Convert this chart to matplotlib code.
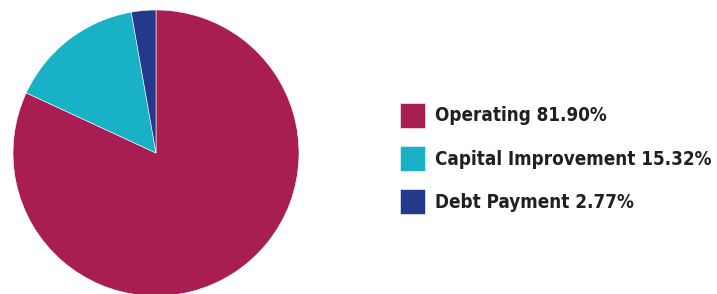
import matplotlib
matplotlib.use("Agg")
import matplotlib.pyplot as plt

categories = ["Operating", "Capital Improvement", "Debt Payment"]
shares = [81.90, 15.32, 2.77]
colors = ["#A81E52", "#18B1C5", "#233A8C"]

W, H = 717, 294
fig = plt.figure(figsize=(W / 100, H / 100), dpi=100)

# pie centred at about (156, 153) px, radius 143 px
cx, cy, r = 156, 153, 143
ax = fig.add_axes([(cx - r) / W, (H - cy - r) / H, 2 * r / W, 2 * r / H])
wedges, _ = ax.pie(shares, colors=colors, startangle=90, counterclock=False,
                   wedgeprops=dict(linewidth=0.4, edgecolor="white"))
ax.set_xlim(-1, 1)
ax.set_ylim(-1, 1)
ax.set_aspect("equal")
ax.axis("off")
for w in wedges:
    w.set_clip_on(False)

labels = [f"{c} {v:.2f}%" for c, v in zip(categories, shares)]
fs = 13.5
fpx = fs * 100 / 72
fig.legend(wedges, labels, loc="upper left",
           bbox_to_anchor=(400 / W, 1 - 103 / H),
           frameon=False, borderpad=0, borderaxespad=0,
           handlelength=25 / fpx, handleheight=31 / fpx,
           handletextpad=10 / fpx, labelspacing=18.5 / fpx,
           prop=dict(family="DejaVu Sans", stretch="condensed",
                     weight="bold", size=fs),
           labelcolor="#231F20")

fig.savefig("out.png", dpi=100)
